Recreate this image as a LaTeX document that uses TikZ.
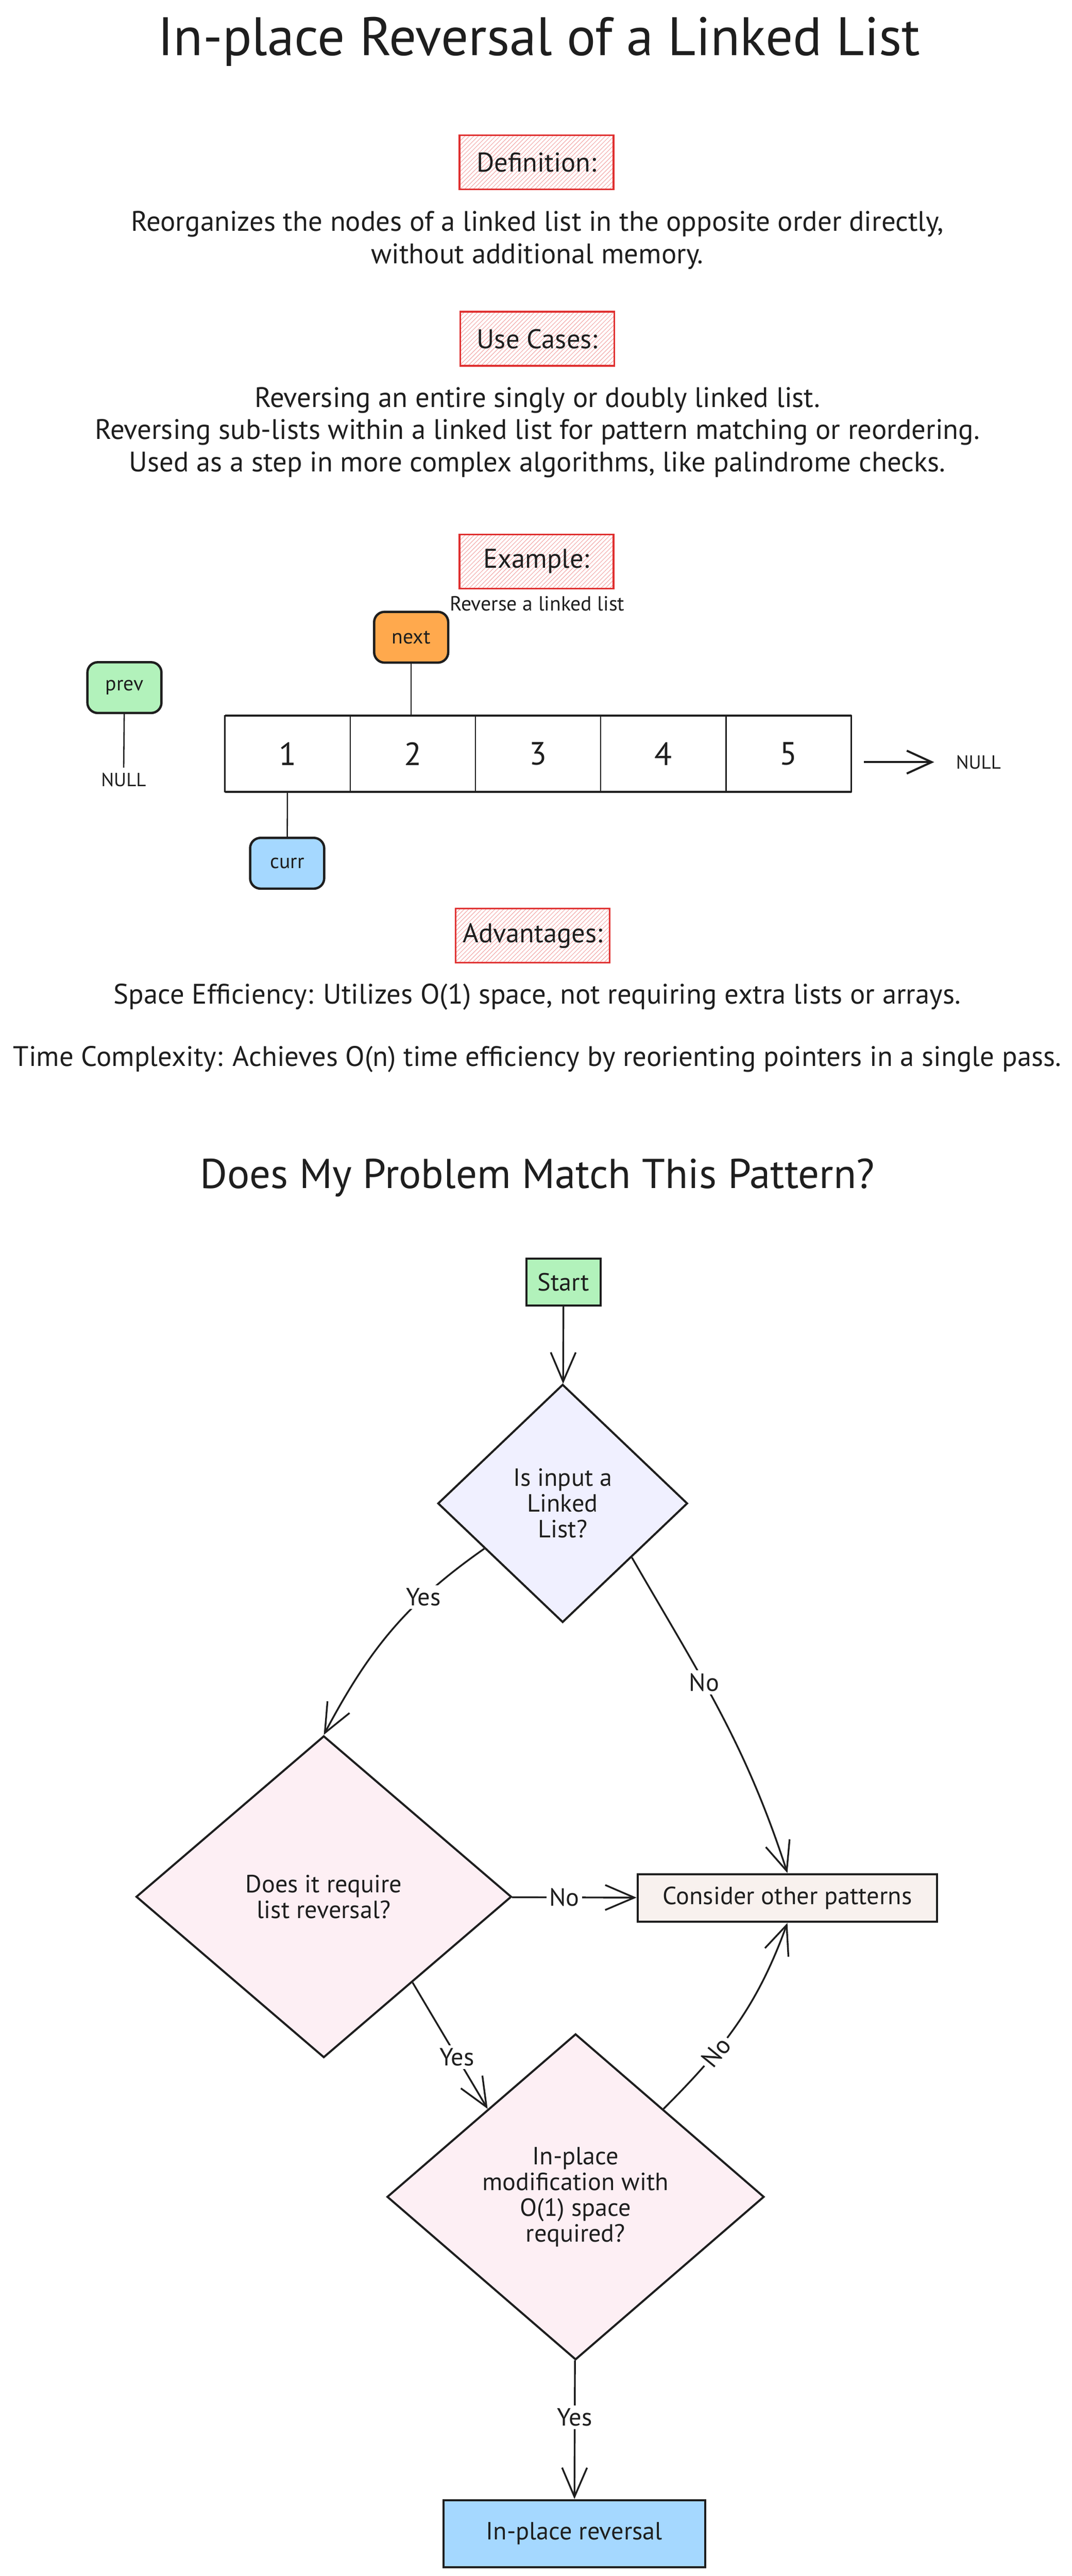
\documentclass[tikz,border=0pt]{standalone}
\usepackage{fontspec}
\setmainfont{PT Sans}
\usetikzlibrary{positioning,shapes.geometric,arrows.meta,patterns}
\definecolor{ink}{HTML}{1E1E1E}
\definecolor{hred}{HTML}{E03131}
\definecolor{mint}{HTML}{B2F2BB}
\definecolor{tangerine}{HTML}{FFA94D}
\definecolor{sky}{HTML}{A5D8FF}
\definecolor{lavender}{HTML}{F0F0FF}
\definecolor{blush}{HTML}{FDEFF4}
\definecolor{sand}{HTML}{F8F1EE}

\begin{document}
\begin{tikzpicture}[
            > = {Straight Barb[length=7mm,width=6mm]}, % open arrow head
            ink,
            heading/.style={draw=hred, line width=1.2pt, pattern=north east lines,
                pattern color=hred!40, minimum width=3.7cm, minimum height=1.3cm,
                text=ink, font=\fontsize{18.5}{21}\selectfont},
            body/.style={align=center, font=\fontsize{19.3}{21.9}\selectfont},
            ptr/.style={draw, rounded corners=2.5mm, line width=1.6pt,
                minimum width=1.78cm, minimum height=1.22cm, font=\fontsize{14}{16}\selectfont},
            cell/.style={draw, line width=0.9pt, outer sep=0pt, inner sep=0pt,
                minimum width=3.01cm, minimum height=1.83cm, font=\fontsize{22}{24}\selectfont},
            decision/.style={diamond, draw, line width=1.4pt, inner sep=0pt,
                align=center, font=\fontsize{17}{17.6}\selectfont},
            proc/.style={draw, line width=1.4pt, inner sep=0pt, font=\fontsize{17}{18}\selectfont},
            link/.style={->, line width=1.2pt},
            tag/.style={fill=white, inner sep=2pt, font=\fontsize{17}{18}\selectfont}
        ]
\fill[white] (0,0) rectangle (25.75,-61.89);
\useasboundingbox (0,0) rectangle (25.75,-61.89);

% top part
\node[font=\fontsize{37}{42}\selectfont] (title) at (12.95,-1.0) {In-place Reversal of a Linked List};
\node[heading] (defn) at (12.89,-3.90) {Definition:};
\node[body] (defntext) at (12.91,-5.77) {Reorganizes the nodes of a linked list in the opposite order directly,\\without additional memory.};
\node[heading] (uses) at (12.91,-8.14) {Use Cases:};
\node[body] (usestext) at (12.91,-10.39) {Reversing an entire singly or doubly linked list.\\Reversing sub-lists within a linked list for pattern matching or reordering.\\Used as a step in more complex algorithms, like palindrome checks.};
\node[heading] (exmp) at (12.89,-13.49) {Example:};
\node[font=\fontsize{14}{16}\selectfont] (exmptext) at (12.91,-14.50) {Reverse a linked list};

% the list
\node[cell] (c1) at (6.91,-18.11) {1};
\node[cell, right=0pt of c1] (c2) {2};
\node[cell, right=0pt of c2] (c3) {3};
\node[cell, right=0pt of c3] (c4) {4};
\node[cell, right=0pt of c4] (c5) {5};
\draw[line width=1.6pt] (c1.north west) -- (c5.north east);
\draw[line width=1.6pt] (c1.south west) -- (c5.south east);

\node[ptr, fill=mint] (prev) at (2.99,-16.52) {prev};
\node[ptr, fill=tangerine] (next) at (9.88,-15.31) {next};
\node[ptr, fill=sky] (curr) at (6.90,-20.74) {curr};
\node[font=\fontsize{13}{15}\selectfont] (nullL) at (2.97,-18.73) {NULL};
\node[font=\fontsize{13}{15}\selectfont] (nullR) at (23.51,-18.31) {NULL};

\draw[line width=0.9pt] (prev) -- (nullL);
\draw[line width=0.9pt] (next.south) -- (next.south |- c2.north);
\draw[line width=0.9pt] (c1) -- (curr);
\draw[->, line width=1.4pt, > = {Straight Barb[length=6mm,width=5.5mm]},
      shorten <=3mm, shorten >=4mm] (c5.east |- nullR) -- (nullR.west);

\node[heading] (adv) at (12.80,-22.48) {Advantages:};
\node[body] (space) at (12.91,-23.95) {Space Efficiency: Utilizes O(1) space, not requiring extra lists or arrays.};
\node[body] (time) at (12.91,-25.45) {Time Complexity: Achieves O(n) time efficiency by reorienting pointers in a single pass.};

% flowchart
\node[font=\fontsize{28.5}{34}\selectfont] (match) at (12.91,-28.30) {Does My Problem Match This Pattern?};
\node[proc, fill=mint, minimum width=1.79cm, minimum height=1.13cm] (start) at (13.54,-30.80) {Start};
\node[decision, fill=lavender, minimum width=6.0cm, minimum height=5.72cm] (d1) at (13.52,-36.12) {Is input a\\Linked\\List?};
\node[decision, fill=blush, minimum width=9.02cm, minimum height=7.73cm] (d2) at (7.78,-45.57) {Does it require\\list reversal?};
\node[proc, fill=sand, minimum width=7.2cm, minimum height=1.15cm] (cons) at (18.92,-45.60) {Consider other patterns};
\node[decision, fill=blush, minimum width=9.06cm, minimum height=7.83cm] (d3) at (13.83,-52.78) {In-place\\modification with\\O(1) space\\required?};
\node[proc, fill=sky, minimum width=6.29cm, minimum height=1.61cm] (final) at (13.80,-60.87) {In-place reversal};

\path[link] (start) edge (d1);
\path[link] (d1.210) edge[out=-145, in=62] node[tag, pos=0.3] {Yes} (d2.north);
\path[link] (d1.-38) edge[out=-60, in=108] node[tag, pos=0.4] {No} (cons.north);
\path[link] (d2) edge node[tag, pos=0.42] {No} (cons);
\path[link] (d2.-44) edge node[tag, pos=0.59] {Yes} (d3.135);
\path[link] (d3.45) edge[out=45, in=-110] node[tag, pos=0.33, sloped] {No} (cons.south);
\path[link] (d3) edge node[tag, pos=0.41] {Yes} (final);
\end{tikzpicture}
\end{document}
